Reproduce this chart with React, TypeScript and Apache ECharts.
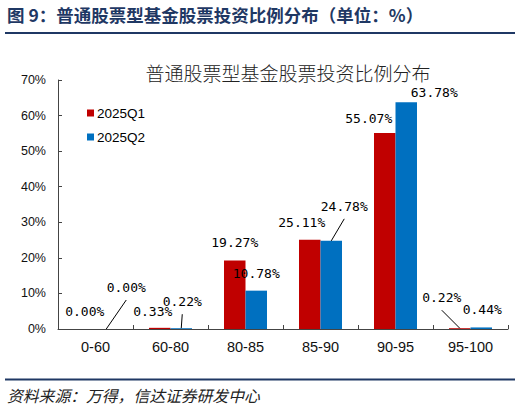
import React, { useEffect, useRef } from "react";
import * as echarts from "echarts";

const categories = ["0-60", "60-80", "80-85", "85-90", "90-95", "95-100"];
const seriesNames = ["2025Q1", "2025Q2"];
const q1Values = [0.0, 0.33, 19.27, 25.11, 55.07, 0.22];
const q2Values = [0.0, 0.22, 10.78, 24.78, 63.78, 0.44];
const yTicks = { min: 0, max: 70, interval: 10 };

const headerText = "图 9：普通股票型基金股票投资比例分布（单位：%）";
const chartTitle = "普通股票型基金股票投资比例分布";
const sourceText = "资料来源：万得，信达证券研发中心";

// label nudges (Excel-style manually placed labels), per series and category
const labelShift = [
  [[0, -6], [-7, -5], [0, -6], [-8, -6], [-16, -3], [-18, -19]],
  [[20, -30], [1, -15], [0, -6], [13, -23], [28, 2], [1, -6]],
];
const leaderLines = [
  [false, false, false, false, false, true],
  [true, true, false, true, false, false],
];

const RED = "#C00000";
const BLUE = "#0070C0";
const NAVY = "#1F3864";
const NUM_FONT = "DejaVu Sans Mono, monospace";
const SANS = "Liberation Sans, Arial, sans-serif";
const BAR_W = 21.5;

export default function App() {
  const ref = useRef<HTMLDivElement>(null);
  useEffect(() => {
    document.body.style.margin = "0";
    if (!ref.current) return;
    const chart = echarts.init(ref.current, null, { renderer: "svg" });
    const allValues = [q1Values, q2Values];
    const leaderData: number[][] = [];
    allValues.forEach((vals, si) =>
      vals.forEach((v, i) => {
        if (leaderLines[si][i]) leaderData.push([i, v, si]);
      })
    );
    const labelCfg = {
      show: true,
      position: "top" as const,
      distance: 5,
      fontSize: 13,
      color: "#000",
      fontFamily: NUM_FONT,
      formatter: (p: any) => p.value.toFixed(2) + "%",
    };
    const barSeries = (si: number, color: string) => ({
      name: seriesNames[si],
      type: "bar",
      barWidth: BAR_W,
      barGap: "0%",
      itemStyle: { color },
      label: labelCfg,
      labelLayout: (p: any) => ({
        dx: labelShift[si][p.dataIndex][0],
        dy: labelShift[si][p.dataIndex][1],
      }),
      data: allValues[si],
    });
    chart.setOption({
      animation: false,
      backgroundColor: "#fff",
      title: [
        {
          text: headerText,
          left: 7,
          top: 6,
          padding: 0,
          textStyle: {
            fontSize: 17.5,
            fontWeight: "bold",
            color: NAVY,
            fontFamily: "Noto Sans CJK SC",
          },
        },
        {
          text: chartTitle,
          left: 288,
          textAlign: "center",
          top: 63,
          padding: 0,
          textStyle: {
            fontSize: 19,
            fontWeight: 300,
            color: "#222",
            fontFamily: "Noto Sans CJK SC",
          },
        },
        {
          text: sourceText,
          left: 7,
          top: 388,
          padding: 0,
          textStyle: {
            fontSize: 15.8,
            fontWeight: "normal",
            fontStyle: "italic",
            color: "#222",
            fontFamily: "Noto Sans CJK SC",
          },
        },
      ],
      graphic: [
        {
          type: "line",
          shape: { x1: 5, y1: 33, x2: 515, y2: 33 },
          style: { stroke: NAVY, lineWidth: 2 },
        },
        {
          type: "line",
          shape: { x1: 5, y1: 379.5, x2: 515, y2: 379.5 },
          style: { stroke: NAVY, lineWidth: 2 },
        },
      ],
      legend: {
        orient: "vertical",
        left: 87,
        top: 106,
        padding: 0,
        itemWidth: 7,
        itemHeight: 7,
        itemGap: 10,
        icon: "rect",
        textStyle: {
          fontSize: 13.5,
          color: "#000",
          fontFamily: SANS,
          padding: [0, 0, 0, -2],
        },
        data: seriesNames,
      },
      grid: { left: 58, right: 13, top: 80, bottom: 81, containLabel: false },
      xAxis: {
        type: "category",
        data: categories,
        axisLine: { lineStyle: { color: "#444", width: 1 } },
        axisTick: { show: true, inside: true, length: 4, lineStyle: { color: "#444" } },
        axisLabel: {
          fontSize: 14.5,
          color: "#111",
          margin: 10,
          fontFamily: SANS,
        },
      },
      yAxis: {
        type: "value",
        min: yTicks.min,
        max: yTicks.max,
        interval: yTicks.interval,
        splitLine: { show: false },
        axisLine: { show: true, lineStyle: { color: "#444", width: 1 } },
        axisTick: { show: true, inside: true, length: 4, lineStyle: { color: "#444" } },
        axisLabel: {
          formatter: "{value}%",
          fontSize: 12.5,
          color: "#111",
          margin: 12,
          fontFamily: SANS,
        },
      },
      series: [
        barSeries(0, RED),
        barSeries(1, BLUE),
        {
          name: "leader",
          type: "custom",
          silent: true,
          z: 5,
          data: leaderData,
          encode: { x: 0, y: 1 },
          renderItem: (params: any, api: any) => {
            const cat = api.value(0);
            const val = api.value(1);
            const si = api.value(2);
            const pt = api.coord([cat, val]);
            const bx = pt[0] + (si === 0 ? -1 : 1) * (BAR_W / 2);
            const sh = labelShift[si][cat];
            return {
              type: "line",
              shape: { x1: bx, y1: pt[1], x2: bx + sh[0], y2: pt[1] + sh[1] + 1 },
              style: { stroke: "#000", lineWidth: 1 },
            };
          },
        },
      ],
    });
    return () => chart.dispose();
  }, []);
  return <div ref={ref} style={{ width: 521, height: 410 }} />;
}
